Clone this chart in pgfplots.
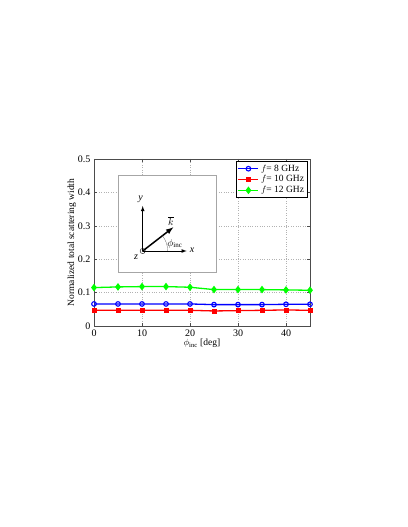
\documentclass[border=0pt]{standalone}
\usepackage{fontspec}
\setmainfont{Liberation Serif}
\usepackage{pgfplots}
\pgfplotsset{compat=1.18}
\begin{document}
\begin{tikzpicture}[x=1pt,y=1pt]
\useasboundingbox (-94,-201) rectangle (313,326);
\begin{axis}[
  at={(0,0)}, anchor=south west,
  scale only axis, width=216pt, height=167pt,
  xmin=0, xmax=45, ymin=0, ymax=0.5,
  xtick={0,10,20,30,40}, ytick={0,0.1,0.2,0.3,0.4,0.5},
  yticklabels={0,0.1,0.2,0.3,0.4,0.5},
  xticklabels={0,10,20,30,40},
  /pgf/number format/assume math mode=true,
  tick align=inside, major tick length=3pt,
  grid=major, major grid style={dotted, gray!60},
  axis line style={black!70},
  tick style={black!70},
  tick label style={font=\fontsize{10}{11}\selectfont},
  label style={font=\fontsize{9.5}{11}\selectfont},
  xlabel={$\phi_{\mathrm{inc}}$ [deg]},
  ylabel={Normalized total scattering width},
  xlabel style={yshift=4pt},
  ylabel style={yshift=-5pt},
  legend style={at={(rel axis cs:0.99,0.988)}, anchor=north east, draw=black, line width=0.6pt, font=\fontsize{9.5}{11}\selectfont, inner sep=1.5pt, row sep=-1pt, cells={anchor=west}},
  legend image code/.code={\draw[mark repeat=2,mark phase=2] plot coordinates {(0cm,0cm) (0.35cm,0cm) (0.7cm,0cm)};},
  legend cell align=left,
]
\addplot[blue, line width=1.3pt, mark=o, mark size=2.3pt, mark options={line width=1.1pt}] coordinates {(0,0.066)(5,0.066)(10,0.066)(15,0.066)(20,0.066)(25,0.064)(30,0.064)(35,0.064)(40,0.065)(45,0.065)};
\addlegendentry{$f$= 8 GHz}
\addplot[red, line width=1.3pt, mark=square*, mark size=2pt, mark options={line width=0.6pt}] coordinates {(0,0.047)(5,0.047)(10,0.047)(15,0.047)(20,0.047)(25,0.045)(30,0.046)(35,0.047)(40,0.048)(45,0.047)};
\addlegendentry{$f$= 10 GHz}
\addplot[green, line width=1.3pt, mark=diamond*, mark size=2.8pt] coordinates {(0,0.115)(5,0.117)(10,0.118)(15,0.118)(20,0.116)(25,0.109)(30,0.109)(35,0.109)(40,0.108)(45,0.107)};
\addlegendentry{$f$= 12 GHz}
\end{axis}
% inset illustration
\draw[black!35, fill=white, line width=0.6pt] (24,54) rectangle (122,151);
\draw[-latex, line width=0.8pt] (48.7,75) -- (48.7,120);
\draw[-latex, line width=0.8pt] (48.7,75) -- (92.7,75);
\draw[-latex, line width=1.5pt] (48.7,75) -- (79.3,98.7);
\draw[line width=0.4pt] (48.7,75) circle (2.6);
\fill (48.7,75) circle (0.8);
\draw[line width=0.3pt, black!60] (73.7,75) arc (0:37.8:25);
\node[font=\itshape\fontsize{10}{11}\selectfont] at (46.7,127) {y};
\node[font=\itshape\fontsize{10}{11}\selectfont] at (98,75.5) {x};
\node[font=\itshape\fontsize{10}{11}\selectfont] at (42,69) {z};
\node[font=\fontsize{10}{11}\selectfont] at (77,105) {$\overline{k}$};
\node[font=\fontsize{10}{11}\selectfont] at (81,82) {$\phi_{\mathrm{inc}}$};
\end{tikzpicture}
\end{document}
